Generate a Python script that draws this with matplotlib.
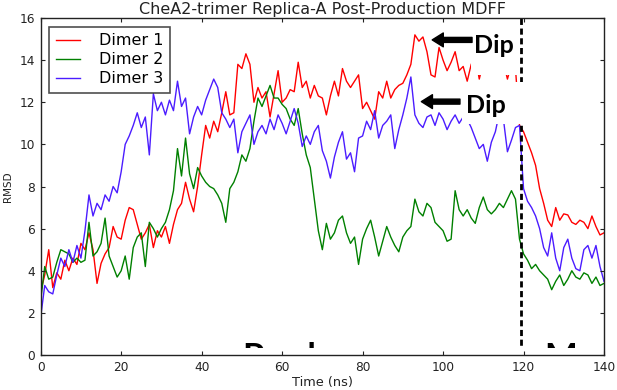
import matplotlib
matplotlib.use('Agg')
import matplotlib.pyplot as plt
import numpy as np
from matplotlib.patches import Rectangle

time_ns = np.arange(0, 141)

dimer1 = [3.0, 3.8, 5.0, 3.2, 3.9, 3.6, 4.5, 4.0, 4.6, 4.3,
          5.3, 5.0, 5.8, 5.0, 3.4, 4.35, 4.8, 5.1, 6.1, 5.6,
          5.5, 6.4, 7.0, 6.9, 6.2, 5.5, 5.8, 6.2, 5.1, 5.9,
          5.6, 6.1, 5.3, 6.2, 6.9, 7.2, 8.2, 7.4, 6.8, 8.0,
          9.5, 10.9, 10.3, 11.1, 10.6, 11.5, 12.5, 11.4, 11.5, 13.8,
          13.6, 14.3, 13.8, 12.0, 12.7, 12.2, 12.5, 11.3, 12.4, 13.5,
          12.0, 12.2, 12.6, 12.5, 13.9, 12.7, 13.0, 12.2, 12.8, 12.3,
          12.2, 11.4, 12.3, 13.0, 12.3, 13.6, 13.0, 12.7, 13.0, 13.3,
          11.7, 12.0, 11.6, 11.2, 12.5, 12.2, 13.0, 12.2, 12.6,
          12.8, 12.9, 13.3, 13.8, 15.2, 14.9, 15.1, 14.4, 13.3, 13.2,
          14.6, 14.0, 13.5, 13.9, 14.4, 13.5, 13.7, 13.0, 13.8, 14.2,
          13.1, 13.9, 14.3, 13.7, 14.1, 13.6, 13.9, 13.1, 13.8, 13.6,
          10.9, 10.6, 10.1, 9.6, 9.0, 7.9, 7.2, 6.4, 6.1, 7.0,
          6.4, 6.7, 6.65, 6.3, 6.2, 6.4, 6.3, 6.0, 6.6, 6.1, 5.7, 5.8]

dimer2 = [2.6, 4.2, 3.6, 3.7, 4.4, 5.0, 4.9, 4.8, 4.4, 4.6,
          4.4, 4.5, 6.3, 4.7, 4.9, 5.3, 6.5, 4.7, 4.2, 3.7,
          4.0, 4.7, 3.6, 5.1, 5.6, 5.8, 4.2, 6.3, 6.0, 5.6,
          6.0, 6.3, 6.9, 7.8, 9.8, 8.5, 10.3, 8.6, 7.9, 8.9,
          8.5, 8.2, 8.0, 7.9, 7.6, 7.2, 6.3, 7.9, 8.2, 8.7,
          9.5, 9.2, 9.8, 11.1, 12.2, 11.8, 12.3, 12.8, 12.2, 12.2,
          11.9, 11.7, 11.2, 10.9, 11.7, 10.5, 9.5, 8.9, 7.4, 5.9,
          5.0, 6.25, 5.5, 5.8, 6.4, 6.6, 5.8, 5.3, 5.6, 4.3,
          5.5, 6.0, 6.4, 5.6, 4.7, 5.4, 6.1, 5.6, 5.2,
          4.9, 5.6, 5.9, 6.1, 7.4, 6.8, 6.6, 7.2, 7.0, 6.3,
          6.1, 5.9, 5.4, 5.5, 7.8, 6.9, 6.6, 6.9, 6.5, 6.25,
          7.0, 7.5, 6.9, 6.7, 6.9, 7.2, 7.0, 7.4, 7.8, 7.4,
          5.5, 4.8, 4.5, 4.1, 4.3, 4.0, 3.8, 3.6, 3.1, 3.5,
          3.8, 3.3, 3.6, 4.0, 3.7, 3.6, 3.9, 3.8, 3.4, 3.7, 3.3, 3.4]

dimer3 = [1.8, 3.3, 3.0, 2.9, 3.8, 4.6, 4.2, 5.0, 4.4, 5.2,
          4.6, 5.9, 7.6, 6.6, 7.2, 6.9, 7.6, 7.3, 8.0, 7.7,
          8.7, 10.0, 10.4, 10.9, 11.5, 10.8, 11.3, 9.5, 12.4, 11.6,
          12.0, 11.4, 12.1, 11.6, 13.0, 11.8, 12.2, 10.5, 11.3, 11.8,
          11.4, 12.1, 12.6, 13.1, 12.7, 11.5, 11.2, 10.8, 11.2, 9.6,
          10.6, 11.0, 11.4, 10.0, 10.6, 10.9, 10.5, 11.2, 10.7, 11.4,
          11.0, 10.5, 11.1, 11.7, 11.0, 9.9, 10.4, 10.0, 10.6, 10.9,
          9.7, 9.2, 8.4, 9.4, 10.1, 10.6, 9.3, 9.6, 8.7, 10.3,
          10.4, 11.1, 10.7, 11.6, 10.3, 10.9, 11.1, 11.4, 9.8,
          10.7, 11.4, 12.2, 13.2, 11.4, 11.0, 10.8, 11.3, 11.4, 10.9,
          11.5, 11.2, 10.7, 11.1, 11.4, 11.0, 11.3, 11.2, 10.8, 10.3,
          9.8, 10.0, 9.2, 10.1, 10.6, 11.5, 11.2, 9.65, 10.2, 10.8,
          10.9, 7.9, 7.3, 7.0, 6.6, 6.0, 5.1, 4.7, 5.8, 4.6,
          4.0, 5.1, 5.5, 4.6, 4.1, 4.0, 5.0, 5.2, 4.6, 5.2, 4.2, 3.5]

series_labels = ['Dimer 1', 'Dimer 2', 'Dimer 3']
series_colors = ['#ff0000', '#008000', '#4b1cff']
x_ticks = [0, 20, 40, 60, 80, 100, 120, 140]
y_ticks = [0, 2, 4, 6, 8, 10, 12, 14, 16]

W, H = 617, 390
fig = plt.figure(figsize=(W / 100, H / 100), dpi=100)
ax = fig.add_axes([40.7 / W, 1 - 355 / H, (604 - 40.7) / W, (355 - 18) / H])

for vals, lab, col in zip([dimer1, dimer2, dimer3], series_labels, series_colors):
    ax.plot(time_ns, vals, color=col, lw=1.0, label=lab, zorder=2)

ax.set_xlim(0, 140)
ax.set_ylim(0, 16)
ax.set_xticks(x_ticks)
ax.set_yticks(y_ticks)
ax.tick_params(direction='in', top=True, right=True, length=3, width=0.8,
               labelsize=8.7, pad=4, colors='#222222')
for sp in ax.spines.values():
    sp.set_linewidth(1.0)
    sp.set_color('#222222')
    sp.set_zorder(9)
ax.xaxis.set_zorder(9)
ax.yaxis.set_zorder(9)

ax.set_title('CheA2-trimer Replica-A Post-Production MDFF', fontsize=11.5,
             pad=3, color='#222222')
ax.set_xlabel('Time (ns)', fontsize=9.3, labelpad=2, color='#222222')
ax.set_ylabel('RMSD', fontsize=7.5, labelpad=5, color='#222222')

leg = ax.legend(loc='upper left', fontsize=11.5, fancybox=False, frameon=True,
                handlelength=1.5, handletextpad=1.2, labelspacing=0.25,
                borderpad=0.4, borderaxespad=0.55)
leg.get_frame().set_edgecolor('#222222')
leg.get_frame().set_linewidth(1.2)
leg.set_zorder(10)

# white cover boxes behind the "Dip" labels
ax.add_patch(Rectangle((107.0, 13.3), 14.0, 2.7, facecolor='white',
                       edgecolor='none', zorder=3))
ax.axvline(119.3, color='black', lw=2.0, linestyle=(0, (2.2, 1.3)), zorder=4)
ax.add_patch(Rectangle((104.8, 10.95), 15.0, 2.02, facecolor='white',
                       edgecolor='none', zorder=5))

dip_font = dict(family=['Lato', 'DejaVu Sans'], weight='bold', fontsize=18,
                color='black')
ax.text(107.8, 14.33, 'Dip', ha='left', va='baseline', zorder=6, **dip_font)
ax.text(105.8, 11.48, 'Dip', ha='left', va='baseline', zorder=6, **dip_font)
arrow_kw = dict(facecolor='black', edgecolor='black', width=3.6,
                headwidth=10, headlength=8, shrink=0)
ax.annotate('', xy=(97.3, 14.96), xytext=(107.2, 14.96),
            arrowprops=arrow_kw, zorder=6)
ax.annotate('', xy=(94.6, 12.03), xytext=(104.2, 12.03),
            arrowprops=arrow_kw, zorder=6)

# partially hidden large labels at the bottom (only their tops show)
for xpos, s in [(50.2, 'Prod'), (125.1, 'M')]:
    ax.text(xpos, 0.63, s, ha='left', va='top', family=['Lato', 'DejaVu Sans'],
            weight='bold', fontsize=25, color='black', zorder=6, clip_on=True)
ax.add_patch(Rectangle((0, 0), 140, 0.33, facecolor='white',
                       edgecolor='none', zorder=7))

fig.savefig('out.png', dpi=100)
